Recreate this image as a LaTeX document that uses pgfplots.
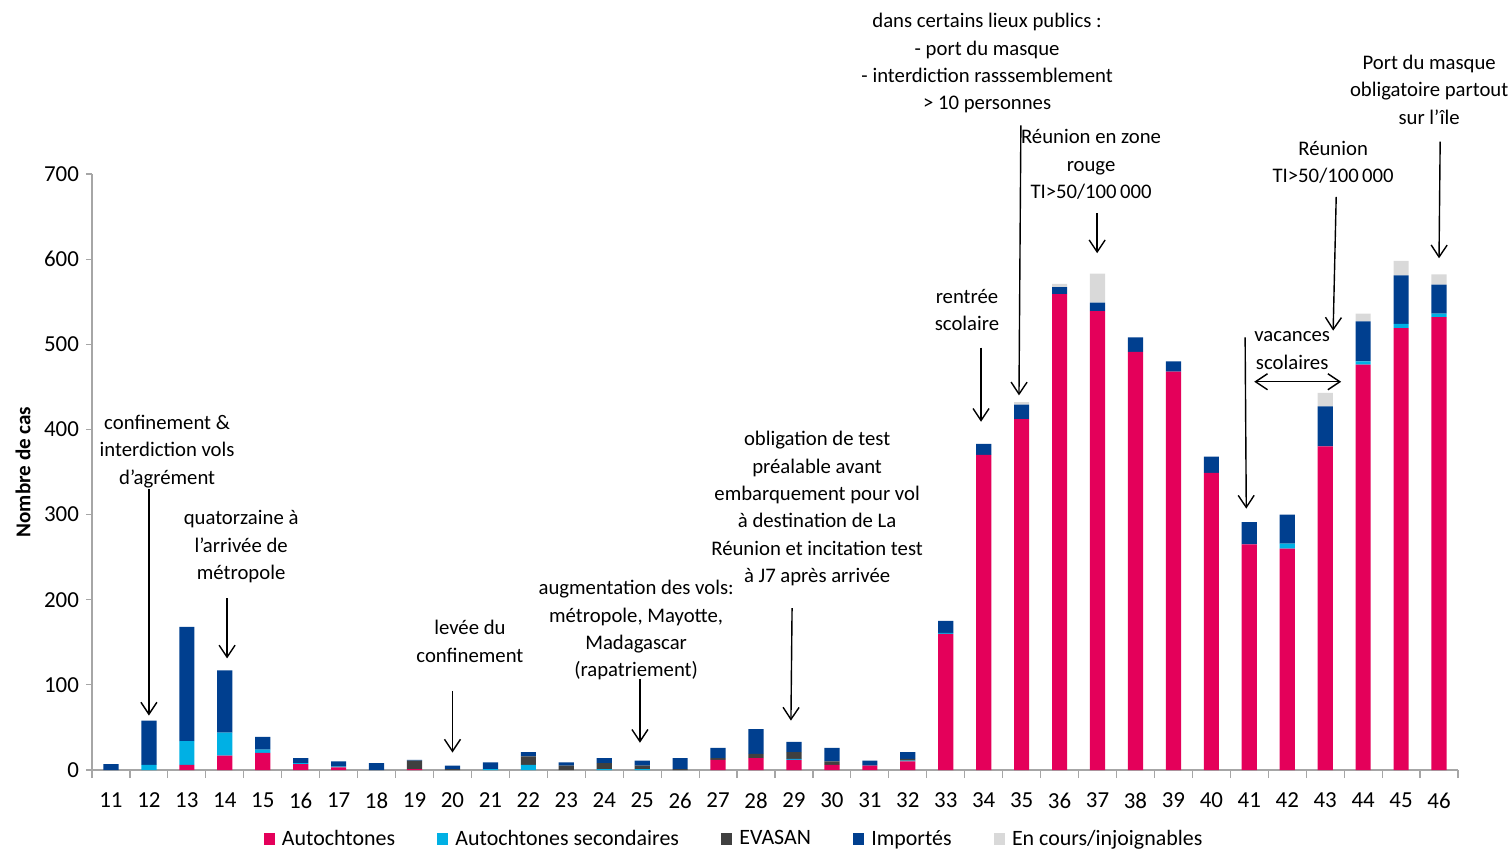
\documentclass[border=0pt]{standalone}
\usepackage{pgfplots}
\usepackage{pgfplotstable}
\pgfplotsset{compat=1.18}
\usepackage{fontspec}
\setmainfont{Carlito}
\usetikzlibrary{arrows.meta}

\definecolor{autoc}{HTML}{E4005A}
\definecolor{secc}{HTML}{00B0E4}
\definecolor{evac}{HTML}{404040}
\definecolor{impc}{HTML}{003F8F}
\definecolor{encc}{HTML}{D9D9D9}
\definecolor{axc}{HTML}{A6A6A6}

% week, autochtones, autochtones secondaires, evasan, importes, en cours
\pgfplotstableread{
week auto sec evasan imp encours
11 0 0 0 7 0
12 0 6 0 52 0
13 6 28 0 134 0
14 17 27 0 73 0
15 20 4 0 15 0
16 7 1 0 6 0
17 3 1 0 6 0
18 0 0 0 8 0
19 1 0 10 1 0
20 0 0 1 4 0
21 0 1 0 8 0
22 0 6 10 5 0
23 0 0 5 4 0
24 0 1 7 6 0
25 0 1 4 6 0
26 0 0 1 13 0
27 12 0 2 12 0
28 14 0 5 29 0
29 12 1 8 12 0
30 6 0 4 16 0
31 5 0 0 6 0
32 10 1 2 8 0
33 160 1 0 14 0
34 370 0 0 13 0
35 412 0 0 17 3
36 559 0 0 8 4
37 539 0 0 10 34
38 491 0 0 17 0
39 468 0 0 12 0
40 349 0 0 19 0
41 265 0 0 26 0
42 260 6 0 34 0
43 380 0 0 47 16
44 476 4 0 47 9
45 519 5 0 57 17
46 532 4 0 34 12
}\cases

\newcommand{\txt}{\fontsize{10.4}{13.75}\selectfont}
\newcommand{\tck}{\fontsize{11.5}{13}\selectfont}

\begin{document}
\begin{tikzpicture}[
    note/.style={align=center, font=\txt, inner sep=0pt},
    arr/.style={-{Straight Barb[length=6bp,width=8bp]}, line width=0.7bp},
  ]
\begin{axis}[
    scale only axis,
    width=683bp, height=298bp,
    ybar stacked, bar width=0.4,
    xmin=10.5, xmax=46.5, ymin=0, ymax=700,
    clip=false,
    axis x line*=bottom, axis y line*=left,
    axis line style={draw=axc, line width=0.6bp},
    xtick={11,...,46},
    minor xtick={10.5,11.5,...,46.5},
    major x tick style={draw=none},
    minor x tick style={draw=axc, line width=0.6bp},
    minor tick length=4bp,
    ytick={0,100,...,700},
    major y tick style={draw=axc, line width=0.6bp},
    major tick length=3bp,
    tick align=outside,
    ticklabel style={font=\tck},
    xticklabel style={yshift=-5bp},
    /pgf/number format/assume math mode=true,
    ylabel={\bfseries Nombre de cas},
    ylabel style={font=\fontsize{10.6}{12}\selectfont},
    legend columns=-1,
    legend style={draw=none, at={(0.4707,-0.1158)}, anchor=center,
      font=\fontsize{11}{13}\selectfont,
      /tikz/every odd column/.append style={column sep=1.6bp},
      /tikz/every even column/.append style={column sep=19bp}},
    legend image code/.code={\fill[#1] (0bp,-2.8bp) rectangle (5.6bp,2.8bp);},
  ]
  \addplot[fill=autoc, draw=none] table[x=week, y=auto] {\cases};
  \addplot[fill=secc, draw=none] table[x=week, y=sec] {\cases};
  \addplot[fill=evac, draw=none] table[x=week, y=evasan] {\cases};
  \addplot[fill=impc, draw=none] table[x=week, y=imp] {\cases};
  \addplot[fill=encc, draw=none] table[x=week, y=encours] {\cases};
  \legend{Autochtones, Autochtones secondaires, EVASAN, Importés, En cours/injoignables}

  % annotations
  \node[note] at (axis cs:12.48,374) {confinement \&\\interdiction vols\\d'agrément};
  \draw[arr] (axis cs:12,330) -- (axis cs:12,64);
  \node[note] at (axis cs:14.43,262) {quatorzaine à\\l'arrivée de\\métropole};
  \draw[arr] (axis cs:14.06,202) -- (axis cs:14.06,131);
  \node[note] at (axis cs:20.46,151) {levée du\\confinement};
  \draw[arr] (axis cs:20,93) -- (axis cs:20,20.5);
  \node[note] at (axis cs:24.84,164) {augmentation des vols:\\métropole, Mayotte,\\Madagascar\\(rapatriement)};
  \draw[arr] (axis cs:24.94,107) -- (axis cs:24.94,32);
  \node[note] at (axis cs:29.61,307) {obligation de test\\préalable avant\\embarquement pour vol\\à destination de La\\Réunion et incitation test\\à J7 après arrivée};
  \draw[arr] (axis cs:28.95,190) -- (axis cs:28.92,58);
  \node[note] at (axis cs:33.56,540) {rentrée\\scolaire};
  \draw[arr] (axis cs:33.93,496) -- (axis cs:33.93,409);
  \node[note] at (axis cs:34.09,830) {dans certains lieux publics :\\- port du masque\\- interdiction rasssemblement\\> 10 personnes};
  \draw[arr] (axis cs:34.98,757) -- (axis cs:34.93,440);
  \node[note] at (axis cs:36.83,711) {Réunion en zone\\rouge\\TI>50/100\,000};
  \draw[arr] (axis cs:36.99,654) -- (axis cs:36.99,607);
  \node[note] at (axis cs:43.21,713.5) {Réunion\\TI>50/100\,000};
  \draw[arr] (axis cs:43.29,673) -- (axis cs:43.21,516);
  \node[note] at (axis cs:45.74,799) {Port du masque\\obligatoire partout\\sur l'île};
  \draw[arr] (axis cs:46.03,738) -- (axis cs:46,601);
  \node[note] at (axis cs:42.13,492.7) {vacances\\scolaires};
  \draw[arr, {Straight Barb[length=6bp,width=8bp]}-{Straight Barb[length=6bp,width=8bp]}] (axis cs:41.13,456) -- (axis cs:43.42,456);
  \draw[arr] (axis cs:40.89,508) -- (axis cs:40.92,307);
\end{axis}
\pgfresetboundingbox
\path[use as bounding box] (-46bp,-40.5bp) rectangle (709.5bp,385bp);
\end{tikzpicture}
\end{document}
